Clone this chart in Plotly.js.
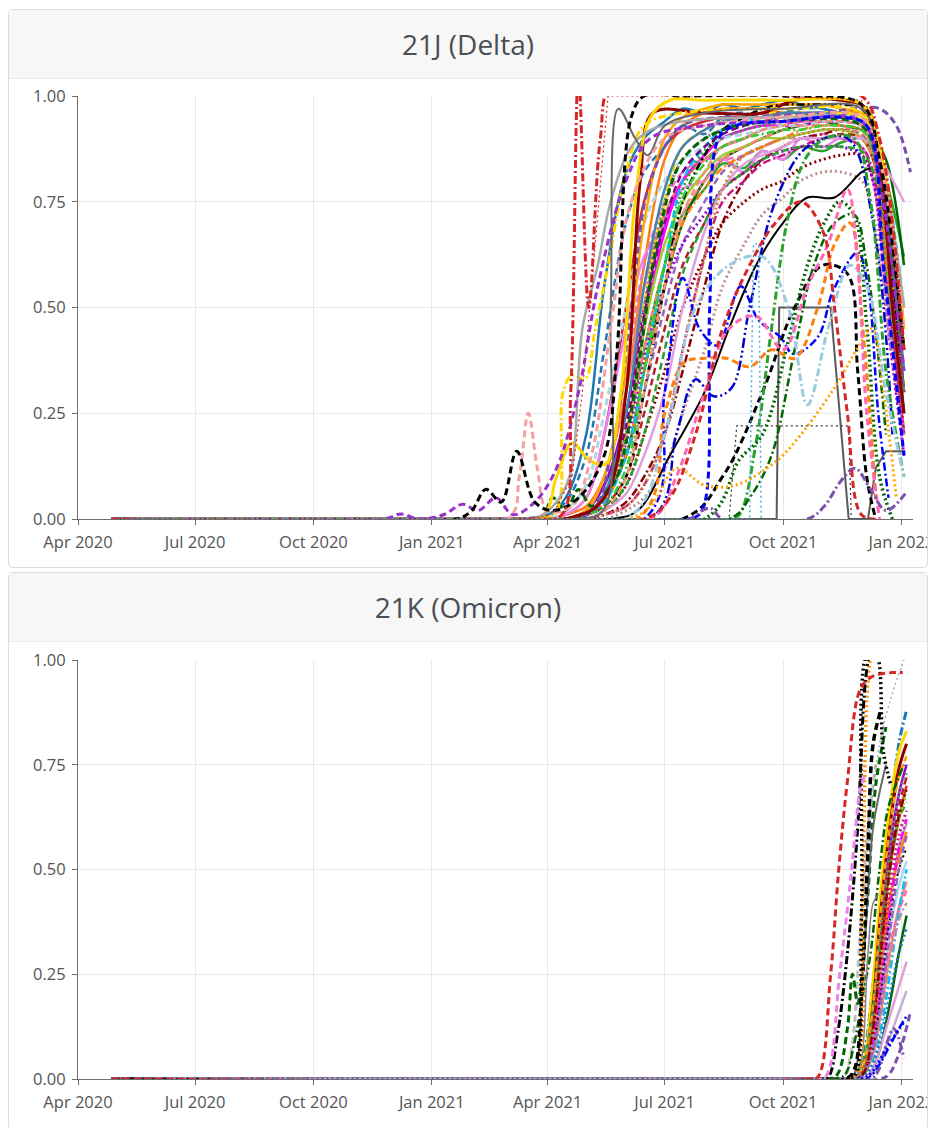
<!DOCTYPE html>
<html><head><meta charset="utf-8">
<script src="https://cdn.plot.ly/plotly-3.0.1.min.js"></script>
<style>
body{margin:0;background:#fff;font-family:'Open Sans',sans-serif;}
.card{position:absolute;left:8px;width:918px;border:1px solid #dcdcdc;border-radius:5px;overflow:hidden;background:#fff;}
.card-header{height:68px;background:#f7f7f7;border-bottom:1px solid #ececec;text-align:center;line-height:68px;font-size:28px;color:#4a4f55;font-family:'Open Sans',sans-serif;}
.plot{width:930px;height:488px;}
</style></head>
<body>
<div class="card" style="top:9px"><div class="card-header">21J (Delta)</div><div id="p1" class="plot"></div></div>
<div class="card" style="top:572px"><div class="card-header">21K (Omicron)</div><div id="p2" class="plot"></div></div>
<script>
// ---------- 21J (Delta) : shared dates for the bulk of countries ----------
const deltaDates = ['2020-04-27','2020-12-01','2021-03-01','2021-04-01','2021-04-15','2021-05-01','2021-05-15','2021-06-01','2021-06-15','2021-07-01','2021-07-15','2021-08-01','2021-08-15','2021-09-01','2021-09-15','2021-10-01','2021-10-15','2021-11-01','2021-11-15','2021-12-01','2021-12-10','2021-12-20','2022-01-03'];
const dUSA        = [0,0,0,0.01,0.05,0.2,0.55,0.82,0.9,0.94,0.97,0.96,0.98,0.97,0.98,0.99,0.98,0.97,0.96,0.95,0.9,0.7,0.25];
const dGermany    = [0,0,0,0,0.01,0.03,0.1,0.3,0.6,0.85,0.93,0.96,0.97,0.97,0.97,0.96,0.96,0.96,0.96,0.96,0.93,0.8,0.45];
const dSpain      = [0,0,0,0,0.01,0.05,0.2,0.5,0.75,0.88,0.92,0.94,0.95,0.95,0.96,0.96,0.96,0.95,0.95,0.94,0.9,0.7,0.3];
const dItaly      = [0,0,0,0,0,0.02,0.08,0.2,0.4,0.6,0.72,0.78,0.84,0.83,0.87,0.85,0.88,0.87,0.89,0.9,0.88,0.8,0.62];
const dFrance     = [0,0,0,0,0,0.01,0.05,0.15,0.35,0.55,0.7,0.8,0.85,0.88,0.9,0.92,0.93,0.94,0.93,0.92,0.9,0.85,0.6];
const dSweden     = [0,0,0,0,0,0.02,0.08,0.25,0.5,0.7,0.8,0.85,0.88,0.9,0.92,0.93,0.93,0.94,0.94,0.93,0.88,0.7,0.35];
const dDenmark    = [0,0,0,0,0.01,0.05,0.2,0.45,0.62,0.7,0.78,0.8,0.85,0.82,0.87,0.85,0.9,0.88,0.9,0.88,0.8,0.55,0.2];
const dNorway     = [0,0,0,0,0,0.02,0.1,0.3,0.55,0.72,0.8,0.85,0.88,0.9,0.92,0.93,0.94,0.95,0.95,0.94,0.9,0.75,0.3];
const dPoland     = [0,0,0,0,0,0.01,0.06,0.2,0.45,0.68,0.8,0.86,0.9,0.92,0.93,0.93,0.94,0.94,0.94,0.93,0.88,0.6,0.2];
const dBelgium    = [0,0,0,0,0,0.02,0.1,0.35,0.6,0.75,0.82,0.85,0.85,0.86,0.88,0.9,0.9,0.91,0.9,0.88,0.8,0.5,0.15];
const dCzechia    = [0,0,0,0,0,0.01,0.04,0.15,0.3,0.5,0.65,0.75,0.82,0.86,0.88,0.9,0.91,0.92,0.92,0.91,0.85,0.6,0.25];
const dAustria    = [0,0,0,0,0,0.01,0.05,0.15,0.35,0.6,0.78,0.87,0.9,0.92,0.93,0.94,0.95,0.95,0.95,0.94,0.9,0.7,0.3];
const dRussia     = [0,0,0,0,0,0,0.02,0.08,0.2,0.35,0.5,0.62,0.7,0.75,0.78,0.8,0.83,0.85,0.86,0.86,0.8,0.6,0.2];
const dJapan      = [0,0,0,0,0,0,0.01,0.04,0.1,0.2,0.35,0.55,0.7,0.8,0.85,0.88,0.9,0.91,0.92,0.9,0.85,0.6,0.25];
const dCanada     = [0,0,0,0,0,0.01,0.04,0.15,0.35,0.55,0.7,0.78,0.83,0.86,0.88,0.9,0.92,0.93,0.93,0.92,0.88,0.7,0.4];
const dNetherlands= [0,0,0,0.01,0.04,0.15,0.4,0.7,0.82,0.88,0.93,0.91,0.95,0.96,0.94,0.96,0.97,0.97,0.96,0.95,0.9,0.75,0.35];
const dSwitzerland= [0,0,0,0,0,0.01,0.05,0.2,0.45,0.65,0.75,0.82,0.86,0.88,0.9,0.9,0.91,0.92,0.92,0.9,0.85,0.7,0.4];
const dIreland    = [0,0,0,0,0.02,0.08,0.25,0.5,0.7,0.8,0.85,0.88,0.9,0.91,0.92,0.93,0.93,0.94,0.94,0.93,0.88,0.7,0.35];
const dPortugal   = [0,0,0,0,0,0.02,0.1,0.35,0.7,0.9,0.95,0.97,0.98,0.98,0.98,0.98,0.98,0.98,0.97,0.96,0.92,0.75,0.4];
const dTurkey     = [0,0,0,0,0,0.01,0.03,0.1,0.25,0.45,0.6,0.7,0.78,0.82,0.85,0.88,0.9,0.9,0.91,0.9,0.85,0.65,0.3];
const dMexico     = [0,0,0,0,0,0,0.01,0.03,0.08,0.2,0.4,0.62,0.75,0.8,0.84,0.86,0.88,0.9,0.9,0.88,0.82,0.6,0.2];
const dBrazil     = [0,0,0,0,0,0.01,0.05,0.18,0.38,0.55,0.65,0.72,0.78,0.82,0.85,0.87,0.88,0.88,0.88,0.86,0.8,0.5,0.15];
const dChile      = [0,0,0,0,0,0,0,0.02,0.05,0.12,0.25,0.4,0.55,0.65,0.72,0.76,0.8,0.82,0.82,0.8,0.72,0.5,0.2];
const dPeru       = [0,0,0,0,0,0.01,0.05,0.2,0.4,0.6,0.72,0.8,0.85,0.88,0.9,0.92,0.93,0.93,0.93,0.9,0.85,0.6,0.3];
const dAustralia  = [0,0,0,0,0,0.01,0.04,0.15,0.35,0.6,0.8,0.88,0.92,0.94,0.95,0.96,0.96,0.96,0.95,0.94,0.9,0.8,0.5];
const dSingapore  = [0,0,0,0,0,0,0.02,0.08,0.2,0.4,0.58,0.7,0.78,0.82,0.85,0.87,0.88,0.88,0.88,0.87,0.82,0.7,0.45];
const dIsrael     = [0,0,0,0,0,0.01,0.05,0.2,0.5,0.75,0.88,0.92,0.94,0.95,0.96,0.96,0.96,0.96,0.96,0.95,0.9,0.7,0.3];
const dFinland    = [0,0,0,0,0,0.01,0.05,0.2,0.5,0.75,0.85,0.9,0.92,0.93,0.94,0.95,0.95,0.95,0.95,0.94,0.9,0.6,0.25];
const dLuxembourg = [0,0,0,0,0,0.01,0.03,0.1,0.3,0.55,0.75,0.86,0.92,0.95,0.97,0.98,0.98,0.98,0.98,0.97,0.92,0.7,0.3];
const dSouthKorea = [0,0,0,0,0,0,0.02,0.06,0.15,0.3,0.5,0.68,0.78,0.84,0.86,0.88,0.9,0.9,0.9,0.9,0.88,0.83,0.75];
const dLithuania  = [0,0,0,0,0,0.01,0.06,0.25,0.55,0.78,0.88,0.92,0.94,0.95,0.95,0.96,0.96,0.96,0.95,0.94,0.9,0.72,0.35];
const dSlovenia   = [0,0,0,0,0,0,0.02,0.1,0.3,0.55,0.72,0.82,0.88,0.9,0.92,0.93,0.94,0.94,0.94,0.93,0.88,0.65,0.3];
const dCroatia    = [0,0,0,0,0,0.01,0.03,0.12,0.35,0.6,0.76,0.84,0.88,0.9,0.91,0.92,0.92,0.93,0.93,0.92,0.87,0.6,0.25];
const dEstonia    = [0,0,0,0,0,0.01,0.05,0.22,0.48,0.7,0.82,0.88,0.91,0.93,0.94,0.95,0.95,0.95,0.95,0.94,0.9,0.68,0.3];
const dLatvia     = [0,0,0,0,0,0,0.01,0.03,0.08,0.2,0.4,0.62,0.78,0.86,0.88,0.9,0.91,0.92,0.92,0.91,0.86,0.62,0.25];

// ---------- 21J (Delta) : countries with their own sampling ----------
const dIndiaDates = ['2020-04-27','2021-03-20','2021-04-12','2021-04-19','2021-04-25','2021-05-03','2021-05-12','2021-05-20','2021-07-01','2021-10-01','2021-12-01','2021-12-15','2022-01-03'];
const dIndia      = [0,0,0.01,0.3,1.05,0.5,0.9,1.02,1.02,1.02,1.0,0.9,0.4];
const dUKDates = ['2020-04-27','2021-03-15','2021-04-05','2021-04-20','2021-04-28','2021-05-08','2021-05-18','2021-06-01','2021-08-01','2021-10-01','2021-12-01','2021-12-12','2021-12-22','2022-01-03'];
const dUK      = [0,0,0.01,0.1,0.3,0.65,1.0,1.0,1.0,1.0,0.99,0.9,0.5,0.2];
const dNepalDates = ['2020-04-27','2021-04-20','2021-05-14','2021-05-20','2021-05-26','2021-06-08','2021-06-18','2021-07-01','2021-08-01','2021-10-01','2021-12-01','2021-12-15','2022-01-03'];
const dNepal      = [0,0,0.02,0.5,0.97,0.9,0.86,0.93,0.96,0.97,0.97,0.85,0.3];
const dBahrainDates = ['2020-04-27','2021-03-20','2021-04-05','2021-04-18','2021-04-28','2021-05-10','2021-05-20','2021-06-05','2021-06-20','2021-07-15','2021-10-01','2021-12-01','2021-12-15','2022-01-03'];
const dBahrain      = [0,0,0.03,0.1,0.45,0.6,0.75,0.88,0.92,0.94,0.95,0.94,0.85,0.5];
const dKenyaDates = ['2020-04-27','2021-01-20','2021-02-01','2021-02-12','2021-02-24','2021-03-08','2021-03-22','2021-04-05','2021-04-25','2021-05-15','2021-05-25','2021-06-05','2021-06-15','2021-07-15','2021-10-01','2021-12-01','2021-12-15','2022-01-03'];
const dKenya      = [0,0,0.02,0.07,0.04,0.16,0.04,0.02,0.05,0.15,0.4,0.95,1.0,1.0,1.0,0.98,0.85,0.4];
const dOmanDates = ['2020-04-27','2021-03-01','2021-03-10','2021-03-17','2021-03-24','2021-04-01','2021-04-20','2021-05-05','2021-05-20','2021-06-05','2021-07-01','2021-08-01','2021-10-01','2021-12-01','2021-12-15','2022-01-03'];
const dOman      = [0,0,0.1,0.25,0.12,0.02,0.03,0.15,0.45,0.75,0.9,0.93,0.95,0.95,0.85,0.45];
const dBangladeshDates = ['2020-04-27','2020-11-25','2020-12-08','2020-12-22','2021-01-10','2021-01-25','2021-02-06','2021-02-20','2021-03-05','2021-03-22','2021-04-08','2021-04-25','2021-05-10','2021-06-01','2021-06-20','2021-08-01','2021-10-01','2021-12-01','2021-12-15','2022-01-03'];
const dBangladesh      = [0,0,0.012,0,0.01,0.035,0.02,0.05,0.01,0.04,0.12,0.3,0.55,0.8,0.9,0.93,0.94,0.94,0.8,0.35];
const dSriLankaDates = ['2020-04-27','2021-03-25','2021-04-08','2021-04-13','2021-04-20','2021-04-30','2021-05-08','2021-05-18','2021-06-01','2021-06-15','2021-07-15','2021-10-01','2021-12-01','2021-12-15','2022-01-03'];
const dSriLanka      = [0,0,0.02,0.3,0.34,0.33,0.45,0.6,0.82,0.93,0.96,0.97,0.96,0.85,0.5];
const dMalaysiaDates = ['2020-04-27','2021-03-25','2021-04-08','2021-04-20','2021-05-03','2021-05-16','2021-05-28','2021-06-08','2021-06-20','2021-07-05','2021-08-01','2021-10-01','2021-12-01','2021-12-15','2022-01-03'];
const dMalaysia      = [0,0,0.1,0.18,0.14,0.13,0.3,0.75,0.95,0.99,0.99,0.99,0.98,0.88,0.45];
const dQatarDates = ['2020-04-27','2021-04-15','2021-05-15','2021-06-01','2021-06-12','2021-06-22','2021-08-01','2021-09-15','2021-10-10','2021-11-15','2021-12-05','2021-12-15','2021-12-25','2022-01-03'];
const dQatar      = [0,0,0.05,0.3,0.8,0.96,0.96,0.96,0.99,0.99,0.97,0.85,0.5,0.25];
const dBrazilNEDates = ['2020-04-27','2021-05-20','2021-06-10','2021-07-05','2021-08-01','2021-08-20','2021-09-10','2021-10-01','2021-10-20','2021-11-10','2021-12-01','2021-12-08'];
const dBrazilNE      = [0,0,0.02,0.15,0.3,0.45,0.6,0.7,0.76,0.76,0.82,0.83];
const dGhanaDates = ['2020-04-27','2021-09-26','2021-09-28','2021-11-07','2021-11-21','2021-12-06','2021-12-12','2021-12-20','2022-01-04'];
const dGhana      = [0,0,0.5,0.5,0,0,0.12,0.16,0.16];
const dNigeriaDates = ['2020-04-27','2021-08-20','2021-08-26','2021-11-21','2021-11-23','2021-12-05'];
const dNigeria      = [0,0,0.22,0.22,0,0];
const dArgentinaDates = ['2020-04-27','2021-06-15','2021-07-01','2021-07-15','2021-07-28','2021-08-11','2021-08-29','2021-09-12','2021-09-29','2021-10-09','2021-10-28','2021-11-09','2021-11-28','2021-12-06','2021-12-14','2021-12-22'];
const dArgentina      = [0,0,0.3,0.57,0.45,0.41,0.55,0.47,0.43,0.39,0.43,0.54,0.63,0.55,0.25,0.05];
const dColombiaDates = ['2020-04-27','2021-06-20','2021-07-10','2021-07-25','2021-08-08','2021-08-22','2021-09-05','2021-09-25','2021-10-20','2021-11-20','2021-12-10','2021-12-25'];
const dColombia      = [0,0,0.2,0.33,0.29,0.31,0.5,0.75,0.88,0.9,0.7,0.2];
const dEcuadorDates = ['2020-04-27','2021-07-20','2021-07-30','2021-08-05','2021-08-12','2021-08-25','2021-10-01','2021-11-15','2021-12-05','2021-12-18','2022-01-03'];
const dEcuador      = [0,0,0.02,0.5,0.9,0.93,0.94,0.95,0.93,0.6,0.15];
const dUruguayDates = ['2020-04-27','2021-08-20','2021-08-28','2021-09-10','2021-09-22','2021-10-04','2021-10-18','2021-11-03','2021-11-25','2021-12-08','2021-12-20','2022-01-03'];
const dUruguay      = [0,0,0.01,0.18,0.45,0.7,0.85,0.9,0.9,0.75,0.35,0.1];
const dParaguayDates = ['2020-04-27','2021-08-01','2021-08-28','2021-09-15','2021-10-05','2021-10-20','2021-11-02','2021-11-14','2021-11-25','2021-12-05','2021-12-15','2021-12-25'];
const dParaguay      = [0,0,0.14,0.2,0.42,0.6,0.7,0.75,0.72,0.46,0.1,0];
const dBoliviaDates = ['2020-04-27','2021-08-20','2021-09-05','2021-09-22','2021-10-10','2021-10-25','2021-11-10','2021-11-25','2021-12-05','2021-12-20'];
const dBolivia      = [0,0,0.05,0.15,0.4,0.6,0.7,0.72,0.6,0.2];
const dCubaDates = ['2020-04-27','2021-06-01','2021-06-20','2021-07-10','2021-08-01','2021-08-25','2021-09-27','2021-10-15','2021-11-01','2021-11-14','2021-11-29','2021-12-09','2021-12-18','2021-12-28'];
const dCuba      = [0,0,0.03,0.12,0.08,0.08,0.14,0.2,0.27,0.33,0.41,0.45,0.3,0.05];
const dVenezuelaDates = ['2020-04-27','2021-06-10','2021-07-01','2021-07-16','2021-08-01','2021-08-18','2021-09-05','2021-09-22','2021-10-10','2021-10-28','2021-11-10','2021-11-22','2021-12-02','2021-12-12'];
const dVenezuela      = [0,0,0.25,0.37,0.38,0.38,0.36,0.4,0.38,0.5,0.65,0.7,0.45,0.05];
const dCostaRicaDates = ['2020-04-27','2021-06-01','2021-07-01','2021-07-25','2021-08-20','2021-09-15','2021-10-05','2021-10-20','2021-11-05','2021-11-22','2021-12-05','2021-12-20','2022-01-03'];
const dCostaRica      = [0,0,0.2,0.5,0.6,0.62,0.5,0.27,0.45,0.6,0.55,0.3,0.1];
const dGuatemalaDates = ['2020-04-27','2021-09-05','2021-09-08','2021-09-12','2021-09-14'];
const dGuatemala      = [0,0,0.65,0.65,0];
const dPanamaDates = ['2020-04-27','2021-06-20','2021-07-10','2021-08-01','2021-08-20','2021-09-10','2021-10-01','2021-10-20','2021-11-05','2021-11-20','2021-11-28','2021-12-05','2021-12-15'];
const dPanama      = [0,0,0.1,0.3,0.45,0.48,0.4,0.55,0.65,0.78,0.6,0.25,0];
const dPhilippinesDates = ['2020-04-27','2021-06-15','2021-07-05','2021-07-25','2021-08-15','2021-09-05','2021-09-25','2021-10-15','2021-11-01','2021-11-10','2021-11-20','2021-12-01','2021-12-15'];
const dPhilippines      = [0,0,0.05,0.2,0.45,0.6,0.7,0.75,0.68,0.5,0.25,0.01,0];
const dSenegalDates = ['2020-04-27','2021-07-20','2021-07-30','2021-08-06','2021-08-15','2021-10-20','2021-11-02','2021-11-15','2021-11-26','2021-12-08','2021-12-20','2022-01-04'];
const dSenegal      = [0,0,0.02,0.025,0,0,0.03,0.09,0.12,0.07,0.02,0.06];
const dHongKongDates = ['2020-04-27','2021-05-01','2021-05-20','2021-06-05','2021-06-20','2021-07-15','2021-09-01','2021-11-01','2021-11-25','2021-12-15','2021-12-28','2022-01-08'];
const dHongKong      = [0,0.01,0.15,0.5,0.8,0.93,0.95,0.96,0.97,0.97,0.93,0.82];
const dIndonesiaDates = ['2020-04-27','2021-07-15','2021-08-15','2021-09-15','2021-10-10','2021-11-01','2021-11-20','2021-11-28','2021-12-05','2021-12-12'];
const dIndonesia      = [0,0,0.1,0.3,0.5,0.6,0.58,0.35,0.1,0];
const dThailandDates = ['2020-04-27','2021-03-25','2021-04-05','2021-04-15','2021-04-25','2021-05-05','2021-05-15','2021-05-25','2021-06-10','2021-06-25','2021-07-15','2021-08-15','2021-10-01','2021-12-01','2021-12-15','2022-01-03'];
const dThailand      = [0,0,0.05,0.02,0.07,0.03,0.06,0.1,0.35,0.65,0.85,0.92,0.94,0.93,0.8,0.4];

// ---------- 21K (Omicron) ----------
const omicronDates = ['2020-04-27','2021-10-15','2021-11-01','2021-11-10','2021-11-18','2021-11-25','2021-12-02','2021-12-09','2021-12-16','2021-12-23','2021-12-30','2022-01-05'];
const oUSA        = [0,0,0,0,0,0.01,0.05,0.2,0.42,0.62,0.8,0.88];
const oMalaysia   = [0,0,0,0,0,0,0.03,0.2,0.45,0.65,0.78,0.83];
const oQatar      = [0,0,0,0,0,0,0.02,0.15,0.4,0.6,0.74,0.8];
const oSweden     = [0,0,0,0,0,0,0.02,0.12,0.35,0.55,0.68,0.75];
const oSpain      = [0,0,0,0,0,0,0.01,0.1,0.3,0.5,0.62,0.7];
const oBahrain    = [0,0,0,0,0,0,0.01,0.08,0.25,0.42,0.55,0.61];
const oGermany    = [0,0,0,0,0,0,0.02,0.1,0.28,0.43,0.53,0.59];
const oIreland    = [0,0,0,0,0,0,0.01,0.06,0.2,0.35,0.46,0.52];
const oNorwayB    = [0,0,0,0,0,0,0.01,0.05,0.16,0.3,0.41,0.47];
const oPanama     = [0,0,0,0,0,0,0.02,0.08,0.2,0.32,0.4,0.45];
const oSouthKorea = [0,0,0,0,0,0,0,0.01,0.05,0.1,0.16,0.21];
const oFrance     = [0,0,0,0,0,0,0,0.02,0.08,0.18,0.3,0.39];
const oPoland     = [0,0,0,0,0,0,0.01,0.07,0.22,0.4,0.55,0.62];
const oSingapore  = [0,0,0,0,0,0.01,0.04,0.15,0.35,0.52,0.62,0.66];
const oSwitzerland= [0,0,0,0,0,0,0.02,0.1,0.3,0.5,0.62,0.68];
const oAustralia  = [0,0,0,0,0,0,0.01,0.04,0.12,0.25,0.4,0.5];
const oArgentina  = [0,0,0,0,0,0,0,0.01,0.04,0.08,0.12,0.15];
const oTurkey     = [0,0,0,0,0,0,0.02,0.12,0.33,0.52,0.65,0.72];
const oMexico     = [0,0,0,0,0,0,0.01,0.08,0.25,0.45,0.58,0.64];
const oPortugalB  = [0,0,0,0,0,0,0.03,0.15,0.4,0.6,0.72,0.77];
const oFinland    = [0,0,0,0,0,0,0.02,0.12,0.35,0.55,0.68,0.73];
const oChile      = [0,0,0,0,0,0,0.01,0.05,0.15,0.28,0.38,0.42];
const oLuxembourg = [0,0,0,0,0,0,0.01,0.06,0.2,0.38,0.5,0.55];
const oCzechia    = [0,0,0,0,0,0,0.01,0.06,0.18,0.35,0.5,0.58];
const oJapan      = [0,0,0,0,0,0,0.01,0.1,0.3,0.5,0.63,0.69];
const oLatvia     = [0,0,0,0,0,0,0,0.02,0.08,0.15,0.22,0.28];
const oNetherlandsB=[0,0,0,0,0,0,0.005,0.03,0.1,0.2,0.3,0.36];

const oSouthAfricaDates = ['2020-04-27','2021-10-20','2021-10-28','2021-11-07','2021-11-13','2021-11-20','2021-11-30','2021-12-09','2021-12-25','2022-01-02'];
const oSouthAfrica      = [0,0,0.005,0.25,0.49,0.71,0.93,0.96,0.97,0.97];
const oBotswanaDates = ['2020-04-27','2021-10-25','2021-11-03','2021-11-14','2021-11-23','2021-11-30','2021-12-04'];
const oBotswana      = [0,0,0.005,0.25,0.49,0.69,0.73];
const oUKDates = ['2020-04-27','2021-10-28','2021-11-05','2021-11-12','2021-11-20','2021-11-28','2021-12-04','2021-12-09'];
const oUK      = [0,0,0.005,0.1,0.3,0.6,0.95,1.05];
const oDenmarkDates = ['2020-04-27','2021-11-20','2021-11-26','2021-12-01','2021-12-06','2021-12-12','2021-12-18','2021-12-24'];
const oDenmark      = [0,0,0.01,0.4,1.02,1.02,0.78,0.7];
const oNorwayDates = ['2020-04-27','2021-11-22','2021-11-28','2021-12-02','2021-12-05','2021-12-08'];
const oNorway      = [0,0,0.02,0.45,0.9,1.02];
const oScotlandDates = ['2020-04-27','2021-11-20','2021-11-25','2021-12-03','2021-12-10','2021-12-20'];
const oScotland      = [0,0,0.01,0.3,0.6,0.75];
const oWalesDates = ['2020-04-27','2021-11-22','2021-11-28','2021-12-06','2021-12-10','2021-12-14'];
const oWales      = [0,0,0.01,0.3,0.42,0.44];
const oIcelandDates = ['2020-04-27','2021-11-20','2021-11-28','2021-12-05','2021-12-15','2021-12-25','2022-01-03'];
const oIceland      = [0,0,0.02,0.5,0.8,0.92,1.0];
const oIsraelDates = ['2020-04-27','2021-11-05','2021-11-12','2021-11-20','2021-11-24','2021-11-28','2021-12-05','2021-12-12','2021-12-20'];
const oIsrael      = [0,0,0.01,0.12,0.25,0.18,0.4,0.7,0.84];
const oBelgiumDates = ['2020-04-27','2021-11-10','2021-11-18','2021-11-25','2021-12-02','2021-12-08','2021-12-15','2021-12-22','2022-01-03'];
const oBelgium      = [0,0,0.01,0.08,0.2,0.3,0.5,0.65,0.75];
const oPortugalDates = ['2020-04-27','2021-11-18','2021-11-25','2021-12-01','2021-12-06','2021-12-10','2021-12-16'];
const oPortugal      = [0,0,0.02,0.2,0.55,0.8,0.88];
const oAustriaDates = ['2020-04-27','2021-11-15','2021-11-22','2021-11-30','2021-12-06','2021-12-12'];
const oAustria      = [0,0,0.05,0.35,0.6,0.75];
const oNetherlandsDates = ['2020-04-27','2021-12-15','2021-12-22','2021-12-30','2022-01-08'];
const oNetherlands      = [0,0,0.01,0.06,0.16];
const oBrazilDates = ['2020-04-27','2021-12-08','2021-12-14','2021-12-20','2021-12-26','2022-01-03'];
const oBrazil      = [0,0,0.02,0.08,0.12,0.05];
const oIndiaDates = ['2020-04-27','2021-12-01','2021-12-10','2021-12-18','2021-12-26','2022-01-04'];
const oIndia      = [0,0,0.02,0.06,0.1,0.14];

// ---------- styles ----------
const DASH='7px,4px', DOT='2px,3px', DASHDOT='8px,3px,2px,3px', LDASHDOT='10px,3px,2px,3px,2px,3px';
function tr(x, y, color, dash, width, shape){
  return {type:'scatter', mode:'lines', x:x, y:y, hoverinfo:'skip', showlegend:false,
    line:{color:color, dash:dash||'solid', width:width||2.5, shape:shape||'spline', smoothing:1}};
}
const D = deltaDates;
const deltaTraces = [
  tr(dGhanaDates,dGhana,'#5a5a5a','solid',2,'linear'),
  tr(dNigeriaDates,dNigeria,'#333333',DOT,1.2,'linear'),
  tr(D,dUSA,'#1f77b4','solid',2.5), tr(D,dGermany,'#ff7f0e','solid',2.5), tr(D,dSpain,'#d62728','solid',2.5),
  tr(D,dItaly,'#2ca02c','solid',2.5), tr(D,dFrance,'#006400','solid',2.5), tr(D,dSweden,'#9400d3','solid',2.5),
  tr(D,dDenmark,'#ee82ee','solid',2.5), tr(D,dNorway,'#fa8072','solid',2.5), tr(D,dPoland,'#ff00ff','solid',2.5),
  tr(D,dBelgium,'#e377c2',DASH,2.5), tr(D,dCzechia,'#9467bd',DASH,2.5), tr(D,dAustria,'#2ca02c',DOT,3),
  tr(D,dRussia,'#8b0000',DOT,3), tr(D,dJapan,'#8b0000',DASHDOT,2.5), tr(D,dCanada,'#ff7f0e',DASHDOT,2.5),
  tr(D,dNetherlands,'#1f77b4',DASH,2.5), tr(D,dSwitzerland,'#9acd32','solid',2.5), tr(D,dIreland,'#add8e6',DASH,3),
  tr(D,dPortugal,'#ffa500','solid',2.5), tr(D,dTurkey,'#b22222',DASH,2.5), tr(D,dMexico,'#c71585',DASHDOT,2.5),
  tr(D,dBrazil,'#9400d3',DOT,3), tr(D,dChile,'#bc8f8f',DOT,3), tr(D,dPeru,'#fa8072',DASHDOT,2.5),
  tr(D,dAustralia,'#00bfff',DASH,2.5), tr(D,dSingapore,'#2ca02c',DASH,2.5), tr(D,dIsrael,'#ffd700',DASH,3),
  tr(D,dFinland,'#808080',DOT,3), tr(D,dLuxembourg,'#000000',DASHDOT,2.5), tr(D,dSouthKorea,'#dda0dd','solid',2.5),
  tr(D,dLithuania,'#4682b4','solid',2.5), tr(D,dSlovenia,'#e9967a',DASH,2.5), tr(D,dCroatia,'#32cd32',DASHDOT,2.5),
  tr(D,dEstonia,'#800080',DASH,2.5), tr(D,dLatvia,'#cd853f',DOT,3),
  tr(dThailandDates,dThailand,'#006400',DASH,3),
  tr(dHongKongDates,dHongKong,'#7b52ab',DASH,3),
  tr(dQatarDates,dQatar,'#8b0000','solid',3),
  tr(dMalaysiaDates,dMalaysia,'#ffd700','solid',3),
  tr(dSriLankaDates,dSriLanka,'#ffd700',DASHDOT,3),
  tr(dBahrainDates,dBahrain,'#a9a9a9','solid',2.5),
  tr(dNepalDates,dNepal,'#696969','solid',2),
  tr(dOmanDates,dOman,'#f4a0a0',DASH,3),
  tr(dBangladeshDates,dBangladesh,'#9932cc',DASH,3),
  tr(dKenyaDates,dKenya,'#000000',DASH,3),
  tr(dUKDates,dUK,'#d62728',DOT,1.2,'linear'),
  tr(dIndiaDates,dIndia,'#d62728',DASHDOT,3),
  tr(dBrazilNEDates,dBrazilNE,'#000000','solid',2),
  tr(dIndonesiaDates,dIndonesia,'#000000',DASH,3),
  tr(dArgentinaDates,dArgentina,'#0000ff',DASHDOT,2.5),
  tr(dColombiaDates,dColombia,'#0000cd',LDASHDOT,2.5),
  tr(dEcuadorDates,dEcuador,'#0000ff',DASH,3),
  tr(dUruguayDates,dUruguay,'#2ca02c',DASHDOT,3),
  tr(dParaguayDates,dParaguay,'#006400',DOT,3.5),
  tr(dBoliviaDates,dBolivia,'#006400',DASHDOT,2.5),
  tr(dCubaDates,dCuba,'#ffa500',DOT,3),
  tr(dVenezuelaDates,dVenezuela,'#ff7f0e',DASH,3),
  tr(dCostaRicaDates,dCostaRica,'#9ecae1',DASHDOT,3),
  tr(dGuatemalaDates,dGuatemala,'#4fb0e0',DOT,1.5,'linear'),
  tr(dPanamaDates,dPanama,'#ff69b4',DASH,3),
  tr(dSenegalDates,dSenegal,'#7b52ab',DASHDOT,3),
  tr(dPhilippinesDates,dPhilippines,'#d62728',DASH,3)
];
const O = omicronDates;
const omicronTraces = [
  tr(O,oUSA,'#1f77b4',DASHDOT,3), tr(O,oMalaysia,'#ffd700','solid',3), tr(O,oQatar,'#8b0000','solid',3),
  tr(O,oSweden,'#9400d3','solid',2.5), tr(O,oSpain,'#d62728','solid',2.5), tr(O,oBahrain,'#a9a9a9','solid',2.5),
  tr(O,oGermany,'#ff7f0e','solid',2.5), tr(O,oIreland,'#add8e6','solid',2.5), tr(O,oNorwayB,'#fa8072','solid',2.5),
  tr(O,oPanama,'#ff69b4',DASH,2.5), tr(O,oSouthKorea,'#c5b0d5','solid',2.5), tr(O,oFrance,'#006400','solid',2.5),
  tr(O,oPoland,'#ff00ff',DASHDOT,2.5), tr(O,oSingapore,'#2ca02c',DASH,2.5), tr(O,oSwitzerland,'#9acd32',DOT,3),
  tr(O,oAustralia,'#00bfff',DASHDOT,2.5), tr(O,oArgentina,'#0000ff',DASHDOT,2.5), tr(O,oTurkey,'#b22222',DASH,2.5),
  tr(O,oMexico,'#c71585',DOT,3), tr(O,oPortugalB,'#ffa500',DASH,2.5), tr(O,oFinland,'#808080',DOT,3),
  tr(O,oChile,'#bc8f8f',DASHDOT,2.5), tr(O,oLuxembourg,'#000000',DOT,2), tr(O,oCzechia,'#9467bd',DASH,2.5),
  tr(O,oJapan,'#8b0000',DASHDOT,2.5), tr(O,oLatvia,'#dda0dd','solid',2.5), tr(O,oNetherlandsB,'#1f77b4',DOT,3),
  tr(oNetherlandsDates,oNetherlands,'#7b52ab',DASH,3),
  tr(oBrazilDates,oBrazil,'#7b52ab',DASHDOT,3),
  tr(oIndiaDates,oIndia,'#0000ff',DOT,3),
  tr(oAustriaDates,oAustria,'#c0c0c0',DASH,3),
  tr(oBelgiumDates,oBelgium,'#006400',DASHDOT,2.5),
  tr(oIsraelDates,oIsrael,'#006400',DASH,3),
  tr(oIcelandDates,oIceland,'#999999',DOT,1.2),
  tr(oWalesDates,oWales,'#808080','solid',1.5),
  tr(oScotlandDates,oScotland,'#696969','solid',2),
  tr(oPortugalDates,oPortugal,'#000000',DASH,3.5),
  tr(oNorwayDates,oNorway,'#ff8c00',DOT,3.5),
  tr(oDenmarkDates,oDenmark,'#000000',DOT,3.5),
  tr(oUKDates,oUK,'#000000',DASHDOT,3),
  tr(oBotswanaDates,oBotswana,'#ee82ee',DASH,3),
  tr(oSouthAfricaDates,oSouthAfrica,'#d62728',DASH,3)
];

function layout(t, b){
  const ax = {showline:true, linecolor:'#6e6e6e', linewidth:1, ticks:'outside', ticklen:5, tickcolor:'#6e6e6e',
    gridcolor:'#e9e9e9', zeroline:false, tickfont:{family:'Open Sans, sans-serif', size:16.5, color:'#555'}};
  return {
    width:930, height:488, margin:{l:69, r:26, t:t, b:b}, paper_bgcolor:'rgba(0,0,0,0)', plot_bgcolor:'#fff',
    showlegend:false, hovermode:false,
    xaxis:Object.assign({}, ax, {type:'date', range:['2020-04-01','2022-01-10'], dtick:'M3', tick0:'2020-04-01', tickformat:'%b %Y', ticklabelstandoff:3}),
    yaxis:Object.assign({}, ax, {range:[0,1], tickvals:[0,0.25,0.5,0.75,1], tickformat:'.2f', fixedrange:true, ticklabelstandoff:3})
  };
}
Plotly.newPlot('p1', deltaTraces, layout(17,48), {staticPlot:true, displayModeBar:false});
Plotly.newPlot('p2', omicronTraces, layout(18,51), {staticPlot:true, displayModeBar:false});
</script>
</body></html>
